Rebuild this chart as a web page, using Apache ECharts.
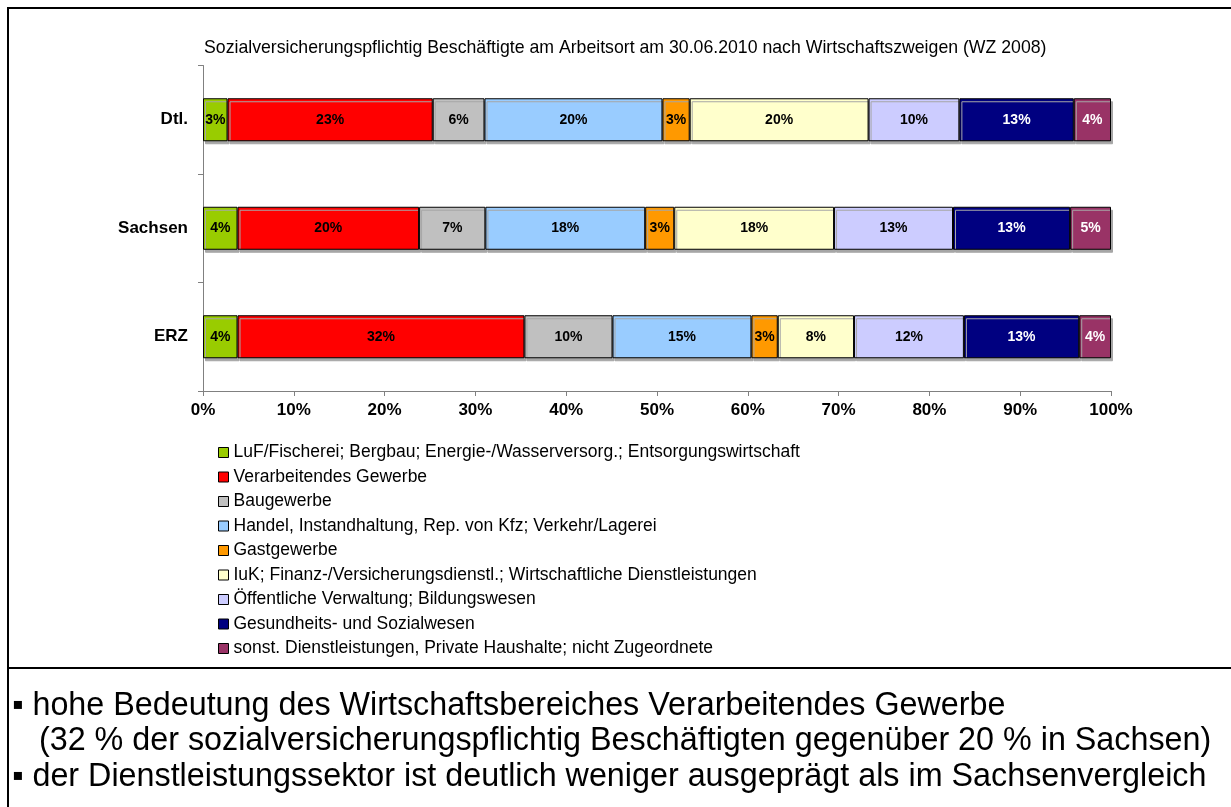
<!DOCTYPE html>
<html>
<head>
<meta charset="utf-8">
<script src="https://cdn.jsdelivr.net/npm/echarts@6/dist/echarts.min.js"></script>
<style>
  html, body { margin: 0; padding: 0; background: #fff; }
  #chart { width: 1231px; height: 807px; }
</style>
</head>
<body>
<div id="chart"></div>
<script>
// Regionen (oben nach unten)
const regions = ['Dtl.', 'Sachsen', 'ERZ']

// Wirtschaftszweige
const branches = [
  'LuF/Fischerei; Bergbau; Energie-/Wasserversorg.; Entsorgungswirtschaft',
  'Verarbeitendes Gewerbe',
  'Baugewerbe',
  'Handel, Instandhaltung, Rep. von Kfz; Verkehr/Lagerei',
  'Gastgewerbe',
  'IuK; Finanz-/Versicherungsdienstl.; Wirtschaftliche Dienstleistungen',
  'Öffentliche Verwaltung; Bildungswesen',
  'Gesundheits- und Sozialwesen',
  'sonst. Dienstleistungen, Private Haushalte; nicht Zugeordnete'
]

// Anteile in % je Zweig: [Dtl., Sachsen, ERZ]
const lufShare = [2.7, 3.8, 3.8]
const verarbShare = [22.6, 20.0, 31.6]
const bauShare = [5.7, 7.3, 9.7]
const handelShare = [19.6, 17.6, 15.3]
const gastShare = [3.0, 3.2, 2.9]
const iukShare = [19.7, 17.6, 8.4]
const oeffShare = [10.0, 13.1, 12.1]
const gesundShare = [12.6, 12.9, 12.7]
const sonstShare = [4.1, 4.5, 3.5]

const shares = [lufShare, verarbShare, bauShare, handelShare, gastShare,
  iukShare, oeffShare, gesundShare, sonstShare]

const colors = ['#99CC00', '#FF0000', '#C0C0C0', '#99CCFF', '#FF9900',
  '#FFFFCC', '#CCCCFF', '#000080', '#993366']

const xTicks = [0, 10, 20, 30, 40, 50, 60, 70, 80, 90, 100]

const title = 'Sozialversicherungspflichtig Beschäftigte am Arbeitsort am 30.06.2010 nach Wirtschaftszweigen (WZ 2008)'
const notes = [
  '▪ hohe Bedeutung des Wirtschaftsbereiches Verarbeitendes Gewerbe',
  '   (32 % der sozialversicherungspflichtig Beschäftigten gegenüber 20 % in Sachsen)',
  '▪ der Dienstleistungssektor ist deutlich weniger ausgeprägt als im Sachsenvergleich'
]

const font = '"Liberation Sans", Arial, sans-serif'

let chart = echarts.init(document.getElementById('chart'))

let series = branches.map((name, i) => ({
  name,
  type: 'bar',
  stack: 'total',
  barWidth: 43,
  data: shares[i],
  itemStyle: {
    color: colors[i],
    borderColor: '#000',
    borderWidth: 1,
    shadowColor: '#a6a6a6',
    shadowOffsetX: 2,
    shadowOffsetY: 3,
    shadowBlur: 0
  },
  label: {
    show: true,
    position: 'inside',
    formatter: (p) => Math.round(p.value) + '%',
    fontFamily: font,
    fontWeight: 'bold',
    fontSize: 14,
    color: (i >= 7) ? '#fff' : '#000'
  },
  emphasis: { disabled: true }
}))

// Text unter dem Diagramm
let noteTexts = notes.map((t, i) => ({
  type: 'text',
  left: 12,
  top: 690 + i * 35.5,
  style: { text: t, fontFamily: font, fontSize: 32.3, fill: '#000' }
}))

let option = {
  backgroundColor: '#fff',
  animation: false,
  title: {
    text: title,
    left: 199,
    top: 34,
    textStyle: { fontFamily: font, fontSize: 17.7, fontWeight: 'normal', color: '#000' }
  },
  grid: { left: 203, right: 120, top: 65.5, bottom: 416, containLabel: false },
  xAxis: {
    type: 'value',
    min: 0,
    max: 100,
    interval: 10,
    axisLine: { show: true, lineStyle: { color: '#808080' } },
    axisTick: { show: true, length: 5, lineStyle: { color: '#808080' } },
    splitLine: { show: false },
    axisLabel: {
      formatter: (v) => xTicks.includes(v) ? v + '%' : '',
      fontFamily: font, fontWeight: 'bold', fontSize: 17, color: '#000', margin: 11
    }
  },
  yAxis: {
    type: 'category',
    inverse: true,
    data: regions,
    axisLine: { show: true, lineStyle: { color: '#808080' } },
    axisTick: { show: true, length: 5, lineStyle: { color: '#808080' } },
    axisLabel: { fontFamily: font, fontWeight: 'bold', fontSize: 17, color: '#000', margin: 15 }
  },
  legend: {
    orient: 'vertical',
    left: 213,
    top: 438.5,
    icon: 'rect',
    itemWidth: 10,
    itemHeight: 10,
    itemGap: 6.5,
    itemStyle: { borderColor: '#000', borderWidth: 1, shadowBlur: 0, shadowOffsetX: 0, shadowOffsetY: 0 },
    textStyle: { fontFamily: font, fontSize: 17.5, color: '#000', lineHeight: 17 },
    data: branches
  },
  series,
  graphic: [
    { type: 'line', shape: { x1: 7, y1: 8, x2: 1231, y2: 8 }, style: { stroke: '#000', lineWidth: 2 } },
    { type: 'line', shape: { x1: 8, y1: 7, x2: 8, y2: 807 }, style: { stroke: '#000', lineWidth: 2 } },
    { type: 'line', shape: { x1: 7, y1: 668, x2: 1231, y2: 668 }, style: { stroke: '#000', lineWidth: 2 } },
    ...noteTexts
  ]
}

chart.setOption(option)
</script>
</body>
</html>
